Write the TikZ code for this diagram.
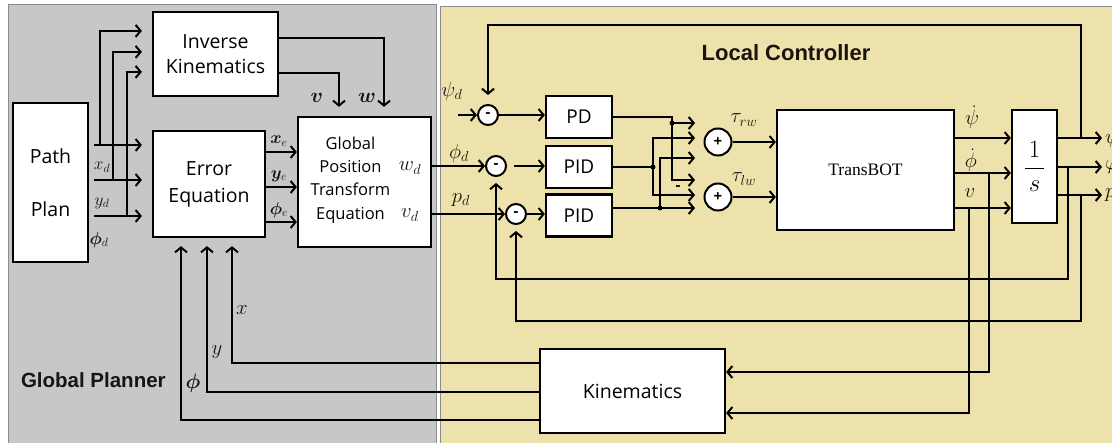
\documentclass[tikz,border=0pt]{standalone}
\usepackage{amsmath}
\usepackage{bm}
\usepackage{fontspec}
\setmainfont{Open Sans}
\newfontfamily\headfont{Liberation Sans}
\newfontfamily\seriff{Liberation Serif}
\usetikzlibrary{arrows.meta,calc}
\definecolor{gpanel}{RGB}{199,199,199}
\definecolor{gborder}{RGB}{140,140,140}
\definecolor{ypanel}{RGB}{238,226,172}
\definecolor{ink}{RGB}{25,20,15}
\begin{document}
\begin{tikzpicture}[x=1pt,y=-1pt,
  line width=2pt,
  arr/.style={-{Straight Barb[length=5pt,width=12pt]}},
  blk/.style={draw, line width=2.2pt, fill=white, inner sep=0pt, align=center,
              font=\fontsize{19}{25}\selectfont},
  sumc/.style={circle, draw, line width=2pt, fill=white, inner sep=0pt,
               minimum size=#1, font=\fontsize{15}{15}\selectfont\bfseries},
  ml/.style={inner sep=0pt, text=ink, font=\fontsize{18}{20}\selectfont},
  mr/.style={inner sep=0pt, text=ink, font=\fontsize{19.5}{21}\selectfont},
  dotc/.style={circle, fill=black, inner sep=0pt, minimum size=5pt},
  head/.style={inner sep=0pt, text=ink}
]
\useasboundingbox (0,0) rectangle (1112,443);
\clip (0,0) rectangle (1112,443);
% panels
\fill[white] (0,0) rectangle (1112,443);
\fill[gpanel] (8,5) rectangle (436,446);
\draw[gborder, line width=1pt] (8,446) -- (8,5) -- (436,5) -- (436,446);
\fill[ypanel] (440,7) rectangle (1115,446);
\draw[gborder, line width=1pt] (440,446) -- (440,7) -- (1115,7);

\node[head, font=\headfont\bfseries\fontsize{20.5}{24}\selectfont, anchor=west] (gplab) at (20,380) {Global Planner};
\node[head, font=\headfont\bfseries\fontsize{22}{24}\selectfont] (lclab) at (786,53) {Local Controller};

% ---------- blocks ----------
\node[blk, minimum width=75pt, minimum height=159pt, font=\fontsize{19.5}{53}\selectfont] (path) at (50.5,182.5) {Path\\Plan};
\node[blk, minimum width=125pt, minimum height=84pt, font=\fontsize{19.5}{25}\selectfont] (ik) at (215.5,54) {Inverse\\Kinematics};
\node[blk, minimum width=112pt, minimum height=106pt, font=\fontsize{19.5}{27}\selectfont] (err) at (209,184) {Error\\Equation};
\node[blk, minimum width=133pt, minimum height=130pt,
  label={[font=\fontsize{16.5}{23.3}\selectfont, align=center, xshift=-14pt, yshift=2pt]center:Global\\Position\\Transform\\Equation}] (gp) at (364.5,182) {};
\node[blk, minimum width=66pt, minimum height=42pt] (pd) at (579,117) {PD};
\node[blk, minimum width=66pt, minimum height=42pt] (pid1) at (579,167) {PID};
\node[blk, minimum width=66pt, minimum height=42pt] (pid2) at (579,215.5) {PID};
\node[blk, minimum width=177pt, minimum height=120pt, font=\seriff\fontsize{17.5}{20}\selectfont] (tb) at (865.5,170) {TransBOT};
\node[blk, minimum width=45pt, minimum height=113pt, font=\fontsize{23}{26}\selectfont] (invs) at (1034.5,166.5) {$\dfrac{\,1\,}{\,s\,}$};
\node[blk, minimum width=185pt, minimum height=84pt, font=\fontsize{19.5}{25}\selectfont] (kin) at (632.5,391) {Kinematics};

% summing junctions
\node[sumc=20pt] (psic) at (488,115) {-};
\node[sumc=20pt] (phic) at (496,166) {-};
\node[sumc=20pt] (pc) at (516,214) {-};
\node[sumc=27pt] (rwc) at (718,142) {+};
\node[sumc=27pt] (lwc) at (718,197) {+};

% ---------- left connectors ----------
\coordinate (po1) at (94,145);
\coordinate (po2) at (94,180);
\coordinate (po3) at (94,216);
\foreach \p in {po1,po2,po3} \draw[arr, shorten >=10pt] (\p) -- (\p -| err.west);
\coordinate (br1) at (100,145);
\coordinate (br2) at (113,180);
\coordinate (br3) at (127,216);
\draw[arr, shorten >=10pt] (br1) |- ($(ik.north west)+(0,20)$);
\draw[arr, shorten >=10pt] (br2) |- ($(ik.north west)+(0,41)$);
\draw[arr, shorten >=10pt] (br3) |- ($(ik.north west)+(0,61)$);

\draw[arr] ($(err.east)+(0,-32)$) coordinate (eo1) -- (eo1 -| gp.west);
\draw[arr] ($(err.east)+(0,3)$) coordinate (eo2) -- (eo2 -| gp.west);
\draw[arr] ($(err.east)+(0,38)$) coordinate (eo3) -- (eo3 -| gp.west);

\draw[arr] ($(ik.east)+(0,-16)$) -| ($(gp.north)+(19.5,-9)$);
\draw[arr] ($(ik.east)+(0,19)$) -| ($(gp.north)+(-25.5,-9)$);

\draw[arr] (gp.east |- phic) -- (phic.west);
\draw[arr] (gp.east |- pc) -- (pc.west);

% ---------- local controller connectors ----------
\coordinate (psin) at (458,115);
\draw[arr] (psin) -- (psic.west);
\draw[arr] (psic.east) -- (psic.east -| pd.west);
\draw[arr, shorten <=7pt] (phic.east) -- (phic.east -| pid1.west);
\draw[arr] (pc.east) -- (pc.east -| pid2.west);

\coordinate (in1) at (695,123);
\coordinate (in2) at (695,138);
\coordinate (in3) at (695,158);
\coordinate (in4) at (695,180);
\coordinate (in5) at (695,195);
\coordinate (in6) at (695,208);
\coordinate (dA) at (672,123);
\coordinate (dB) at (653,167);
\coordinate (dC) at (660,208);
\draw (pd.east) -| (dA);
\draw[arr] (dA) -- (in1);
\draw[arr] (dA) |- (in4);
\draw (pid1.east) -- (dB);
\draw[arr] (dB) |- (in2);
\draw[arr] (dB) |- (in5);
\draw (pid2.east |- dC) -- (dC);
\draw[arr] (dC) -- (in6);
\draw[arr] (dC) |- (in3);
\node[dotc] (dotA) at (dA) {};
\node[dotc] (dotB) at (dB) {};
\node[dotc] (dotC) at (dC) {};
\node[inner sep=0pt, font=\fontsize{15}{15}\selectfont\bfseries] (minus) at (678,188) {-};

\draw[arr] (rwc.east) -- (rwc.east -| tb.west);
\draw[arr] (lwc.east) -- (lwc.east -| tb.west);

\draw[arr] ($(tb.east)+(0,-32)$) coordinate (t1) -- (t1 -| invs.west);
\draw[arr] ($(tb.east)+(0,3)$) coordinate (t2) -- (t2 -| invs.west);
\draw[arr] ($(tb.east)+(0,38)$) coordinate (t3) -- (t3 -| invs.west);

\coordinate (o1) at ($(invs.east)+(0,-28.5)$);
\coordinate (o2) at ($(invs.east)+(0,0.5)$);
\coordinate (o3) at ($(invs.east)+(0,28.5)$);
\coordinate (e1) at (1102,138);
\draw[arr] (o1) -- (o1 -| e1);
\draw[arr] (o2) -- (o2 -| e1);
\draw[arr] (o3) -- (o3 -| e1);

% feedback loops
\coordinate (psiB) at (1081,138);
\coordinate (phiB) at (1068,167);
\coordinate (pB) at (1081,195);
\coordinate (topc) at (700,25);
\coordinate (fbphi) at (700,279);
\coordinate (fbp) at (700,321);
\draw[arr, shorten >=9pt] (psiB) -- (psiB |- topc) -| (psic.north);
\draw[arr, shorten >=6pt] (phiB) -- (phiB |- fbphi) -| (phic.south);
\draw[arr, shorten >=6pt] (pB) -- (pB |- fbp) -| (pc.south);

% to kinematics
\coordinate (k1) at (989,173);
\coordinate (k2) at (969,208);
\draw[arr] (k1) |- ($(kin.east)+(0,-19)$);
\draw[arr] (k2) |- ($(kin.east)+(0,22)$);

% kinematics to error equation
\draw[arr] ($(kin.west)+(0,-28)$) -| ($(err.south)+(23,8)$);
\draw[arr] ($(kin.west)+(0,1)$) -| ($(err.south)+(-2,8)$);
\draw[arr] ($(kin.west)+(0,29)$) -| ($(err.south)+(-28,8)$);

% ---------- labels ----------
\node[ml] (lxd) at (102,167) {$x_d$};
\node[ml] (lyd) at (102,203) {$y_d$};
\node[ml] (lphid) at (99,240) {$\bm{\phi}_d$};
\node[ml] (lxe) at (279,141) {$\bm{x}_e$};
\node[ml] (lye) at (279,176) {$\bm{y}_e$};
\node[ml] (lphie) at (279,210) {$\bm{\phi}_e$};
\node[mr] (lv) at (317,98) {$\bm{v}$};
\node[mr] (lw) at (367,98) {$\bm{w}$};
\node[mr, font=\fontsize{21}{23}\selectfont] (lwd) at (410,168) {$w_d$};
\node[mr, font=\fontsize{21}{23}\selectfont] (lvd) at (410,215) {$v_d$};
\node[mr] (lpsid) at (452,91) {$\psi_d$};
\node[mr] (lphid2) at (459,153) {$\phi_d$};
\node[mr] (lpd) at (461,200) {$p_d$};
\node[mr] (ltrw) at (744,120) {$\tau_{rw}$};
\node[mr] (ltlw) at (744,179) {$\tau_{lw}$};
\node[mr] (ldpsi) at (972,117) {$\dot{\psi}$};
\node[mr] (ldphi) at (971,160) {$\dot{\phi}$};
\node[mr] (ldv) at (970,193) {$v$};
\node[mr, anchor=west] (lopsi) at (1104,138) {$\psi$};
\node[mr, anchor=west] (lophi) at (1104,167) {$\varphi$};
\node[mr, anchor=west] (lop) at (1104,195) {$p$};
\node[mr] (lx) at (242,310) {$x$};
\node[mr] (ly) at (217,352) {$y$};
\node[mr] (lphi) at (193,383) {$\bm{\phi}$};
\end{tikzpicture}
\end{document}
